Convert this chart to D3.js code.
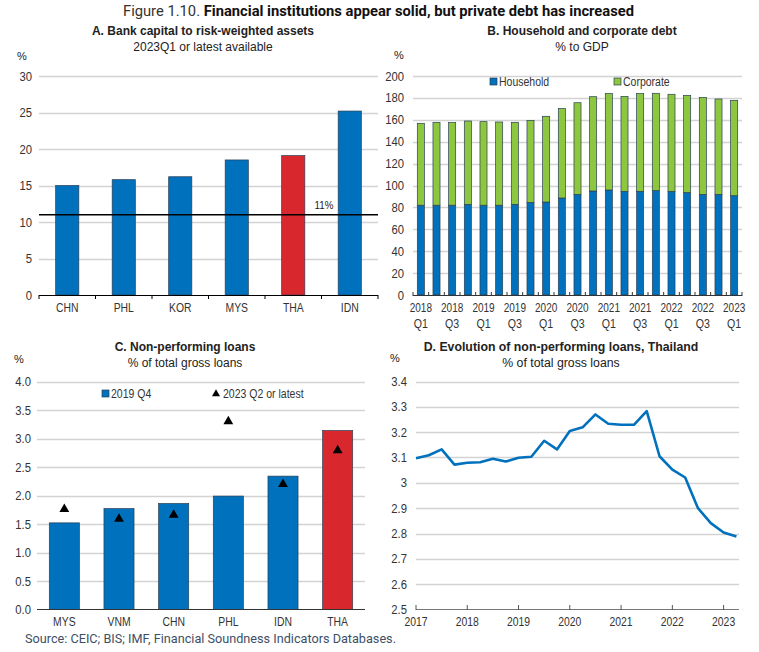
<!DOCTYPE html>
<html><head><meta charset="utf-8">
<script src="https://cdn.jsdelivr.net/npm/d3@7"></script>
<style>
body{margin:0;background:#fff;}
svg text{font-family:'Liberation Sans',Arial,sans-serif;fill:#222;}
</style></head>
<body><svg id="c" width="759" height="652"></svg>
<script>
// Panel A
const capCats = ["CHN","PHL","KOR","MYS","THA","IDN"];
const capVals = [15.0,15.8,16.2,18.5,19.1,25.2];
const capRef = 11;
const capTicks = [0,5,10,15,20,25,30];
// Panel B
const debtQuarters = ["2018 Q1","2018 Q2","2018 Q3","2018 Q4","2019 Q1","2019 Q2","2019 Q3","2019 Q4","2020 Q1","2020 Q2","2020 Q3","2020 Q4","2021 Q1","2021 Q2","2021 Q3","2021 Q4","2022 Q1","2022 Q2","2022 Q3","2022 Q4","2023 Q1"];
const household = [82.0,82.0,82.0,82.8,82.0,82.0,82.8,84.6,84.9,88.6,91.9,95.0,95.9,94.7,94.7,95.3,94.7,93.5,91.9,91.9,90.7];
const corporate = [74.8,75.7,75.4,76.1,76.3,76.0,74.9,74.9,78.3,81.6,83.7,86.1,88.0,86.7,89.2,88.9,88.6,88.8,88.6,87.1,87.1];
const debtTicks = [0,20,40,60,80,100,120,140,160,180,200];
// Panel C
const nplCats = ["MYS","VNM","CHN","PHL","IDN","THA"];
const npl2019 = [1.52,1.77,1.86,1.99,2.34,3.14];
const npl2023 = [1.76,1.59,1.66,3.30,2.20,2.79];
const nplTicks = [0,0.5,1,1.5,2,2.5,3,3.5,4];
// Panel D
const thaDates = ["2017Q1","2017Q2","2017Q3","2017Q4","2018Q1","2018Q2","2018Q3","2018Q4","2019Q1","2019Q2","2019Q3","2019Q4","2020Q1","2020Q2","2020Q3","2020Q4","2021Q1","2021Q2","2021Q3","2021Q4","2022Q1","2022Q2","2022Q3","2022Q4","2023Q1","2023Q2"];
const thaNpl = [3.097,3.109,3.132,3.072,3.079,3.081,3.095,3.084,3.099,3.103,3.166,3.132,3.205,3.219,3.270,3.233,3.229,3.229,3.283,3.105,3.052,3.021,2.900,2.841,2.804,2.788];
const thaTicks = [2.5,2.6,2.7,2.8,2.9,3.0,3.1,3.2,3.3,3.4];
const thaYears = [2017,2018,2019,2020,2021,2022,2023];

const BLUE="#0071BC", RED="#D9272E", GREEN="#8DC63F", GRID="#d3d3d3", EDGE="#2b3f55";
const svg = d3.select("#c");
const LBL = "12.5px";

function squeeze(sel, k){
  sel.each(function(){ const w=this.getComputedTextLength(); d3.select(this).attr("textLength",w*k).attr("lengthAdjust","spacingAndGlyphs"); });
  return sel;
}

// Main title
const t = svg.append("text").attr("y",16).attr("x",123).style("font-family","Roboto,sans-serif").style("font-size","15.5px");
t.append("tspan").text("Figure 1.10. ").style("fill","#333");
t.append("tspan").text("Financial institutions appear solid, but private debt has increased").style("font-weight","bold").style("fill","#111");
t.attr("textLength",511).attr("lengthAdjust","spacingAndGlyphs");

function titles(cx, y, a, b, fs){
  svg.append("text").attr("x",cx).attr("y",y).attr("text-anchor","middle").style("font-size",fs||"12px").style("font-weight","bold").text(a);
  svg.append("text").attr("x",cx).attr("y",y+16).attr("text-anchor","middle").style("font-size",fs||"12px").text(b);
}
function yGrid(g, y, ticks, x0, x1, fmt, lx, skipZeroGrid){
  g.selectAll(".gl").data(skipZeroGrid?ticks.slice(1):ticks).join("line").attr("x1",x0).attr("x2",x1)
    .attr("y1",d=>Math.round(y(d))+0.5).attr("y2",d=>Math.round(y(d))+0.5).attr("stroke",GRID).attr("stroke-width",1.3);
  squeeze(g.selectAll(".yl").data(ticks).join("text").attr("x",lx).attr("y",d=>y(d)+4.5).attr("text-anchor","end")
    .style("font-size",LBL).style("fill","#333").text(fmt),0.9);
}
function xLabels(g, data, xf, yv){
  return squeeze(g.selectAll(".xl").data(data).join("text").attr("x",xf).attr("y",yv)
    .attr("text-anchor","middle").style("font-size",LBL).style("fill","#333").text(d=>d),0.83);
}
function legendText(g, x, y, s){
  squeeze(g.append("text").attr("x",x).attr("y",y).style("font-size",LBL).style("fill","#333").text(s),0.84);
}

// ---------- Panel A ----------
{
  const g = svg.append("g");
  const x = d3.scaleBand().domain(capCats).range([39,378]);
  const y = d3.scaleLinear().domain([0,30]).range([295,76]);
  titles(203,35,"A. Bank capital to risk-weighted assets","2023Q1 or latest available");
  g.append("text").attr("x",22).attr("y",60).attr("text-anchor","middle").style("font-size","11px").text("%");
  yGrid(g,y,capTicks,39,378,d=>d,32,true);
  const bw = x.bandwidth()*0.41;
  g.selectAll(".b").data(capCats).join("rect")
    .attr("x",(d)=>x(d)+x.bandwidth()/2-bw/2).attr("width",bw)
    .attr("y",(d,i)=>y(capVals[i])).attr("height",(d,i)=>y(0)-y(capVals[i]))
    .attr("fill",d=>d==="THA"?RED:BLUE).attr("stroke",EDGE).attr("stroke-width",0.7);
  g.append("line").attr("x1",39).attr("x2",378).attr("y1",y(capRef)).attr("y2",y(capRef)).attr("stroke","#000").attr("stroke-width",1.6);
  squeeze(g.append("text").attr("x",324).attr("y",y(capRef)-6).attr("text-anchor","middle").style("font-size","11.5px").text("11%"),0.85);
  g.append("line").attr("x1",39).attr("x2",378).attr("y1",295.5).attr("y2",295.5).attr("stroke","#000").attr("stroke-width",1);
  g.selectAll(".tk").data(capCats.concat(["end"])).join("line")
    .attr("x1",(d,i)=>39+i*x.step()).attr("x2",(d,i)=>39+i*x.step()).attr("y1",295).attr("y2",299).attr("stroke","#000");
  xLabels(g,capCats,d=>x(d)+x.bandwidth()/2,312);
}

// ---------- Panel B ----------
{
  const g = svg.append("g");
  const x = d3.scaleBand().domain(debtQuarters).range([413,742]);
  const y = d3.scaleLinear().domain([0,200]).range([295,76]);
  titles(582,35,"B. Household and corporate debt","% to GDP");
  g.append("text").attr("x",399).attr("y",59).attr("text-anchor","middle").style("font-size","11px").text("%");
  yGrid(g,y,debtTicks,413,742,d=>d,404,true);
  const bw = x.bandwidth()*0.45;
  const stack = d3.stack().keys(["household","corporate"])(debtQuarters.map((q,i)=>({q,household:household[i],corporate:corporate[i]})));
  g.selectAll(".s").data(stack).join("g").attr("fill",(d,i)=>i===0?BLUE:GREEN)
    .selectAll("rect").data(d=>d).join("rect")
    .attr("x",d=>x(d.data.q)+x.bandwidth()/2-bw/2).attr("width",bw)
    .attr("y",d=>y(d[1])).attr("height",d=>y(d[0])-y(d[1]))
    .attr("stroke",EDGE).attr("stroke-width",0.7);
  g.append("line").attr("x1",413).attr("x2",742).attr("y1",295.5).attr("y2",295.5).attr("stroke","#333").attr("stroke-width",1);
  g.selectAll(".tk").data(debtQuarters.concat(["end"])).join("line")
    .attr("x1",(d,i)=>413+i*x.step()).attr("x2",(d,i)=>413+i*x.step()).attr("y1",292).attr("y2",296).attr("stroke","#333");
  const labs = debtQuarters.filter((d,i)=>i%2===0);
  squeeze(g.selectAll(".xl1").data(labs).join("text").attr("x",d=>x(d)+x.bandwidth()/2).attr("y",312)
    .attr("text-anchor","middle").style("font-size",LBL).style("fill","#333").text(d=>d.split(" ")[0]),0.8);
  squeeze(g.selectAll(".xl2").data(labs).join("text").attr("x",d=>x(d)+x.bandwidth()/2).attr("y",328)
    .attr("text-anchor","middle").style("font-size",LBL).style("fill","#333").text(d=>d.split(" ")[1]),0.85);
  const leg=[["Household",BLUE,490],["Corporate",GREEN,614]];
  leg.forEach(([n,c,lx])=>{
    g.append("rect").attr("x",lx).attr("y",78).attr("width",7).attr("height",7).attr("fill",c).attr("stroke",EDGE).attr("stroke-width",0.7);
    legendText(g,lx+9,86,n);
  });
}

// ---------- Panel C ----------
{
  const g = svg.append("g");
  const x = d3.scaleBand().domain(nplCats).range([37,365]);
  const y = d3.scaleLinear().domain([0,4]).range([609.5,381.5]);
  titles(185,351,"C. Non-performing loans","% of total gross loans");
  g.append("text").attr("x",19).attr("y",363).attr("text-anchor","middle").style("font-size","11px").text("%");
  yGrid(g,y,nplTicks,37,365,d3.format(".1f"),31,true);
  const bw = x.bandwidth()*0.55;
  g.selectAll(".b").data(nplCats).join("rect")
    .attr("x",d=>x(d)+x.bandwidth()/2-bw/2).attr("width",bw)
    .attr("y",(d,i)=>y(npl2019[i])).attr("height",(d,i)=>y(0)-y(npl2019[i]))
    .attr("fill",d=>d==="THA"?RED:BLUE).attr("stroke",EDGE).attr("stroke-width",0.7);
  g.append("line").attr("x1",37).attr("x2",365).attr("y1",609.5).attr("y2",609.5).attr("stroke","#333").attr("stroke-width",1);
  const tri = d3.symbol().type(d3.symbolTriangle).size(42);
  g.selectAll(".tr").data(nplCats).join("path").attr("d",tri)
    .attr("transform",(d,i)=>`translate(${x(d)+x.bandwidth()/2},${y(npl2023[i])})`).attr("fill","#000");
  xLabels(g,nplCats,d=>x(d)+x.bandwidth()/2,626);
  g.append("rect").attr("x",102).attr("y",390).attr("width",7).attr("height",7).attr("fill",BLUE).attr("stroke",EDGE).attr("stroke-width",0.7);
  legendText(g,111,398,"2019 Q4");
  g.append("path").attr("d",d3.symbol().type(d3.symbolTriangle).size(28)).attr("transform","translate(216,394)").attr("fill","#000");
  legendText(g,223,398,"2023 Q2 or latest");
}

// ---------- Panel D ----------
{
  const g = svg.append("g");
  const toYear = s => +s.slice(0,4) + (+s.slice(5)-1)/4;
  const x = d3.scaleLinear().domain([2017,2023.3]).range([416,739]);
  const y = d3.scaleLinear().domain([2.5,3.4]).range([609.5,381.5]);
  titles(561,351,"D. Evolution of non-performing loans, Thailand","% of total gross loans","12.3px");
  g.append("text").attr("x",395).attr("y",362).attr("text-anchor","middle").style("font-size","11px").text("%");
  yGrid(g,y,thaTicks,416,739,d=>String(+d.toFixed(1)),407,true);
  g.append("line").attr("x1",416).attr("x2",739).attr("y1",609.5).attr("y2",609.5).attr("stroke","#777").attr("stroke-width",1.2);
  g.selectAll(".tk").data(thaYears).join("line").attr("x1",d=>x(d)).attr("x2",d=>x(d)).attr("y1",605).attr("y2",610).attr("stroke","#555");
  xLabels(g,thaYears,d=>x(d),626);
  g.append("path").datum(thaDates.map((d,i)=>[toYear(d),thaNpl[i]]))
    .attr("d",d3.line().x(d=>x(d[0])).y(d=>y(d[1])))
    .attr("fill","none").attr("stroke",BLUE).attr("stroke-width",2.6).attr("stroke-linejoin","round");
}

// Source
svg.append("text").attr("x",25).attr("y",643).style("font-family","Roboto,sans-serif").style("font-size","13px").style("fill","#3d4f66")
  .attr("textLength",371).attr("lengthAdjust","spacingAndGlyphs")
  .text("Source: CEIC; BIS; IMF, Financial Soundness Indicators Databases.");
</script></body></html>
